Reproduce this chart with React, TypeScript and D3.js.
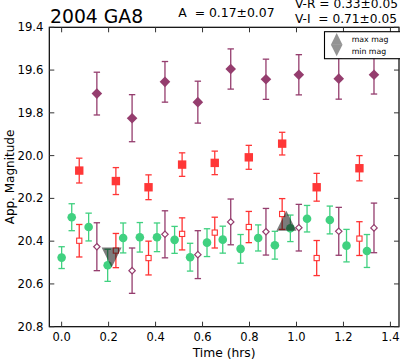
import React from 'react';
import { scaleLinear, symbol, symbolTriangle } from 'd3';

const width = 400;
const height = 360;
const margin = { top: 27.3, right: 1, bottom: 33.3, left: 49.3 };

const innerRight = width - margin.right;
const innerBottom = height - margin.bottom;

// upper purple diamonds
const diamondTime = [0.15, 0.30, 0.44, 0.58, 0.72, 0.87, 1.01, 1.18, 1.33];
const diamondMag = [19.71, 19.825, 19.655, 19.75, 19.595, 19.643, 19.622, 19.64, 19.622];
const diamondErr = [0.10, 0.11, 0.095, 0.098, 0.094, 0.094, 0.094, 0.096, 0.09];

// red filled squares
const squareTime = [0.075, 0.231, 0.37, 0.513, 0.652, 0.797, 0.939, 1.086, 1.268];
const squareMag = [20.07, 20.119, 20.148, 20.042, 20.034, 20.008, 19.944, 20.148, 20.059];
const squareErr = [0.058, 0.063, 0.058, 0.055, 0.055, 0.056, 0.053, 0.065, 0.059];

// green circles
const circleTime = [0.0, 0.043, 0.115, 0.196, 0.262, 0.333, 0.406, 0.481, 0.547, 0.619,
  0.686, 0.762, 0.837, 0.908, 0.974, 1.045, 1.142, 1.213, 1.30];
const circleMag = [20.477, 20.288, 20.334, 20.513, 20.385, 20.382, 20.382, 20.394, 20.475, 20.407,
  20.393, 20.436, 20.385, 20.419, 20.34, 20.295, 20.301, 20.421, 20.446];
const circleErr = [0.051, 0.063, 0.065, 0.075, 0.07, 0.069, 0.067, 0.063, 0.065, 0.065,
  0.063, 0.067, 0.061, 0.065, 0.062, 0.062, 0.065, 0.076, 0.077];

// red open squares (same times as filled squares)
const openSquareMag = [20.398, 20.444, 20.479, 20.366, 20.36, 20.334, 20.273, 20.479, 20.388];
const openSquareErr = [0.076, 0.08, 0.079, 0.075, 0.072, 0.073, 0.072, 0.082, 0.079];

// purple open diamonds (same times as filled diamonds)
const openDiamondMag = [20.426, 20.538, 20.368, 20.463, 20.31, 20.356, 20.337, 20.354, 20.338];
const openDiamondErr = [0.112, 0.106, 0.11, 0.112, 0.107, 0.109, 0.109, 0.112, 0.116];

// extremes
const maxMagTime = [0.957];
const maxMag = [20.304];
const minMagTime = [0.213];
const minMag = [20.476];

const xTicks = [0.0, 0.2, 0.4, 0.6, 0.8, 1.0, 1.2, 1.4];
const yTicks = [19.4, 19.6, 19.8, 20.0, 20.2, 20.4, 20.6, 20.8];

const font = 'DejaVu Sans, sans-serif';

const xScale = scaleLinear().domain([-0.0525, 1.4365]).range([margin.left, innerRight]);
const yScale = scaleLinear().domain([19.4, 20.8]).range([margin.top, innerBottom]);

const triUp = symbol().type(symbolTriangle);

type Marker = 'diamond' | 'square' | 'circle';

function ErrorSeries({ time, mag, err, color, opacity, marker, size, filled }: {
  time: number[]; mag: number[]; err: number[]; color: string; opacity: number;
  marker: Marker; size: number; filled: boolean;
}) {
  return (
    <g opacity={opacity}>
      {time.map((t, i) => {
        const cx = xScale(t);
        const cy = yScale(mag[i]);
        const y0 = yScale(mag[i] - err[i]);
        const y1 = yScale(mag[i] + err[i]);
        const fill = filled ? color : 'white';
        let m;
        if (marker === 'diamond') {
          m = <path d={`M${cx},${cy - size}L${cx + size},${cy}L${cx},${cy + size}L${cx - size},${cy}Z`}
            fill={fill} stroke={color} strokeWidth={filled ? 0 : 1.2} />;
        } else if (marker === 'square') {
          m = <rect x={cx - size} y={cy - size} width={size * 2} height={size * 2}
            fill={fill} stroke={color} strokeWidth={filled ? 0 : 1.1} />;
        } else {
          m = <circle cx={cx} cy={cy} r={size} fill={fill} />;
        }
        return (
          <g key={i}>
            <line x1={cx} x2={cx} y1={y0} y2={y1} stroke={color} strokeWidth={1.3} />
            <line x1={cx - 3.2} x2={cx + 3.2} y1={y0} y2={y0} stroke={color} strokeWidth={1.3} />
            <line x1={cx - 3.2} x2={cx + 3.2} y1={y1} y2={y1} stroke={color} strokeWidth={1.3} />
            {m}
          </g>
        );
      })}
    </g>
  );
}

function triangle(cx: number, cy: number, half: number, up: boolean) {
  const s = up ? 1 : -1;
  return `M${cx},${cy - s * half}L${cx + half},${cy + s * half}L${cx - half},${cy + s * half}Z`;
}

function App() {
  const tick = 5;
  return (
    <svg width={width} height={height} style={{ position: 'absolute', left: 0, top: 0 }}
      fontFamily={font}>
      <rect width={width} height={height} fill="white" />

      <ErrorSeries time={diamondTime} mag={diamondMag} err={diamondErr} color="#7b0d4a"
        opacity={0.8} marker="diamond" size={5.3} filled />
      <ErrorSeries time={squareTime} mag={squareMag} err={squareErr} color="#ff0000"
        opacity={0.78} marker="square" size={4.2} filled />
      <ErrorSeries time={circleTime} mag={circleMag} err={circleErr} color="#1fc96a"
        opacity={0.85} marker="circle" size={4.3} filled />
      <ErrorSeries time={squareTime} mag={openSquareMag} err={openSquareErr} color="#ff0000"
        opacity={0.8} marker="square" size={2.6} filled={false} />
      <ErrorSeries time={diamondTime} mag={openDiamondMag} err={openDiamondErr} color="#7b0d4a"
        opacity={0.8} marker="diamond" size={3.2} filled={false} />

      {maxMagTime.map((t, i) => (
        <path key={'mx' + i} d={triangle(xScale(t), yScale(maxMag[i]), 10, true)}
          fill="#111" opacity={0.55} />
      ))}
      {minMagTime.map((t, i) => (
        <path key={'mn' + i} d={triangle(xScale(t), yScale(minMag[i]), 10, false)}
          fill="#111" opacity={0.55} />
      ))}

      {/* frame */}
      <rect x={margin.left} y={margin.top} width={innerRight - margin.left}
        height={innerBottom - margin.top} fill="none" stroke="black" strokeWidth={1.2} />

      {/* x ticks */}
      {xTicks.map(t => (
        <g key={'x' + t}>
          <line x1={xScale(t)} x2={xScale(t)} y1={innerBottom} y2={innerBottom - tick} stroke="#333" />
          <line x1={xScale(t)} x2={xScale(t)} y1={margin.top} y2={margin.top + tick} stroke="#333" />
          <text x={xScale(t)} y={innerBottom + 14} textAnchor="middle" fontSize={11.5}>{t.toFixed(1)}</text>
        </g>
      ))}
      {/* y ticks */}
      {yTicks.map(v => (
        <g key={'y' + v}>
          <line x1={margin.left} x2={margin.left + tick} y1={yScale(v)} y2={yScale(v)} stroke="#333" />
          <line x1={innerRight} x2={innerRight - tick} y1={yScale(v)} y2={yScale(v)} stroke="#333" />
          <text x={43.5} y={yScale(v)} dy="0.35em" textAnchor="end" fontSize={11.7}>{v.toFixed(1)}</text>
        </g>
      ))}

      <text x={(margin.left + innerRight) / 2} y={356.5} textAnchor="middle" fontSize={12.3}>Time (hrs)</text>
      <text transform={`translate(13.5, ${(margin.top + innerBottom) / 2}) rotate(-90)`}
        textAnchor="middle" fontSize={12}>App. Magnitude</text>

      {/* header */}
      <text x={50} y={22.7} fontSize={18.8}>2004 GA8</text>
      <text x={178.3} y={17.3} fontSize={12.4} style={{ whiteSpace: 'pre' }}>A  = 0.17±0.07</text>
      <text x={295} y={7.6} fontSize={12.2} style={{ whiteSpace: 'pre' }}>V-R = 0.33±0.05</text>
      <text x={295} y={22.7} fontSize={12.2} style={{ whiteSpace: 'pre' }}>V-I  = 0.71±0.05</text>

      {/* legend */}
      <rect x={324.5} y={31.7} width={80} height={27} fill="white" stroke="black" strokeWidth={1.1} />
      <path d={triangle(336.7, 38.9, 5.8, true)} fill="#111" opacity={0.45} />
      <path d={triangle(336.7, 50.5, 5.8, false)} fill="#111" opacity={0.45} />
      <text x={351.7} y={38.9} dy="0.35em" fontSize={7.8}>max mag</text>
      <text x={351.7} y={50.9} dy="0.35em" fontSize={7.8}>min mag</text>
    </svg>
  );
}

export default App;
